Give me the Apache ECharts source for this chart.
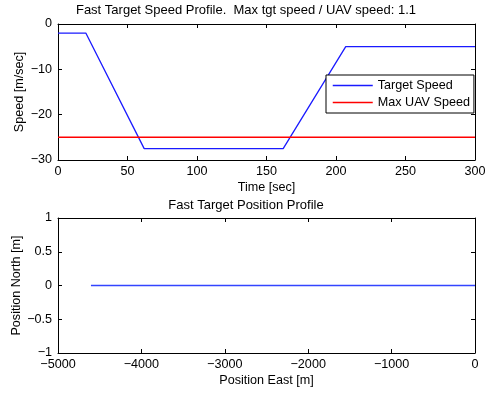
<!DOCTYPE html>
<html>
<head>
<meta charset="utf-8">
<script src="https://cdn.jsdelivr.net/npm/echarts@6/dist/echarts.min.js"></script>
<style>
html,body{margin:0;padding:0;background:#fff;}
#c{width:492px;height:396px;}
</style>
</head>
<body>
<div id="c"></div>
<script>
// Data
const speedTime = [0, 20, 62, 162, 207, 300];
const targetSpeed = [-2, -2, -27.5, -27.5, -5, -5];
const uavTime = [0, 300];
const maxUavSpeed = [-25, -25];
const posEast = [-4605, -4565, -3946, -1196, -465, 0];
const posNorth = [0, 0, 0, 0, 0, 0];

const FONT = "'Liberation Sans', Arial, Helvetica, sans-serif";
const FS = 12.6;
const fmt = v => String(v).replace('-', '\u2212');

function pairs(xs, ys) { return xs.map((x, i) => [x, ys[i]]); }

function axisBase(extra) {
  return Object.assign({
    type: 'value',
    nameMoveOverlap: false,
    axisLine: { show: true, onZero: false, lineStyle: { color: '#000', width: 1 } },
    axisTick: { show: true, inside: true, length: 4, lineStyle: { color: '#000' } },
    splitLine: { show: false },
    axisLabel: { color: '#000', fontFamily: FONT, fontSize: FS, formatter: fmt },
    nameTextStyle: { color: '#000', fontFamily: FONT, fontSize: FS },
    nameLocation: 'middle'
  }, extra);
}
function mirror(extra) {
  const a = axisBase(extra);
  a.axisLabel = { show: false };
  return a;
}

const chart = echarts.init(document.getElementById('c'), null, { renderer: 'canvas' });
chart.setOption({
  animation: false,
  backgroundColor: '#fff',
  title: [
    { text: 'Fast Target Speed Profile.  Max tgt speed / UAV speed: 1.1', left: 'center', top: 4, padding: 0,
      textStyle: { fontFamily: FONT, fontSize: 13, fontWeight: 'normal', color: '#000' } },
    { text: 'Fast Target Position Profile', left: 'center', top: 199, padding: 0,
      textStyle: { fontFamily: FONT, fontSize: 13, fontWeight: 'normal', color: '#000' } }
  ],
  grid: [
    { left: 58, right: 17, top: 24, height: 136 },
    { left: 58, right: 17, top: 218, height: 135 }
  ],
  xAxis: [
    axisBase({ gridIndex: 0, position: 'bottom', min: 0, max: 300, interval: 50, name: 'Time [sec]', nameGap: 21,
      axisLabel: { color: '#000', fontFamily: FONT, fontSize: FS, formatter: fmt, margin: 5 } }),
    mirror({ gridIndex: 0, position: 'top', min: 0, max: 300, interval: 50 }),
    axisBase({ gridIndex: 1, position: 'bottom', min: -5000, max: 0, interval: 1000, name: 'Position East [m]', nameGap: 21,
      axisLabel: { color: '#000', fontFamily: FONT, fontSize: FS, formatter: fmt, margin: 5 } }),
    mirror({ gridIndex: 1, position: 'top', min: -5000, max: 0, interval: 1000 })
  ],
  yAxis: [
    axisBase({ gridIndex: 0, position: 'left', min: -30, max: 0, interval: 10, name: 'Speed [m/sec]', nameGap: 32,
      axisLabel: { color: '#000', fontFamily: FONT, fontSize: FS, formatter: fmt, margin: 6 } }),
    mirror({ gridIndex: 0, position: 'right', min: -30, max: 0, interval: 10 }),
    axisBase({ gridIndex: 1, position: 'left', min: -1, max: 1, interval: 0.5, name: 'Position North [m]', nameGap: 35,
      axisLabel: { color: '#000', fontFamily: FONT, fontSize: FS, formatter: fmt, margin: 6 } }),
    mirror({ gridIndex: 1, position: 'right', min: -1, max: 1, interval: 0.5 })
  ],
  legend: {
    left: 326, top: 75,
    orient: 'vertical',
    padding: [4, 4, 4, 6],
    itemGap: 4,
    itemWidth: 40, itemHeight: 14,
    itemTextGap: 4,
    backgroundColor: '#fff',
    borderColor: '#000', borderWidth: 1, borderRadius: 0,
    itemStyle: { opacity: 0 },
    lineStyle: { width: 'inherit', color: 'inherit' },
    textStyle: { fontFamily: FONT, fontSize: FS, color: '#000' },
    data: ['Target Speed', 'Max UAV Speed']
  },
  series: [
    { name: 'Target Speed', type: 'line', xAxisIndex: 0, yAxisIndex: 0, symbol: 'none',
      data: pairs(speedTime, targetSpeed), lineStyle: { color: '#1a1aff', width: 1.3 }, itemStyle: { color: '#1a1aff' } },
    { name: 'Max UAV Speed', type: 'line', xAxisIndex: 0, yAxisIndex: 0, symbol: 'none',
      data: pairs(uavTime, maxUavSpeed), lineStyle: { color: '#ff0000', width: 1.5 }, itemStyle: { color: '#ff0000' } },
    { name: 'Position', type: 'line', xAxisIndex: 2, yAxisIndex: 2, symbol: 'none',
      data: pairs(posEast, posNorth), lineStyle: { color: '#3344ff', width: 1.5 }, itemStyle: { color: '#0000ff' } }
  ]
});
</script>
</body>
</html>
